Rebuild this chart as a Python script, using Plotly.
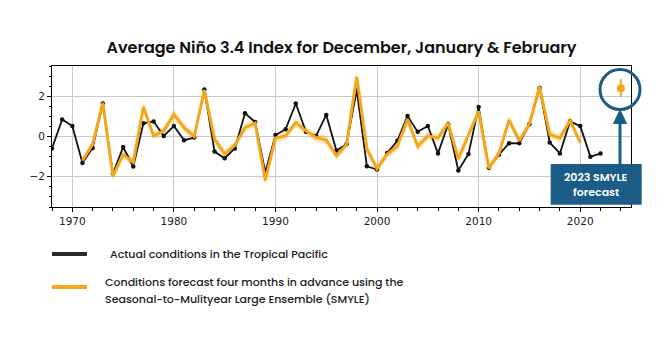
import plotly.graph_objects as go

# ---------------- data ----------------
obs_years = list(range(1968, 2023))
obs_values = [-0.59, 0.85, 0.52, -1.31, -0.57, 1.64, -1.85, -0.52, -1.49, 0.66,
              0.74, 0.03, 0.52, -0.18, -0.05, 2.33, -0.75, -1.08, -0.59, 1.15,
              0.72, -1.77, 0.07, 0.36, 1.64, 0.23, 0.03, 1.07, -0.70, -0.38,
              2.30, -1.48, -1.64, -0.82, -0.21, 1.02, 0.23, 0.52, -0.84, 0.61,
              -1.69, -0.87, 1.46, -1.55, -0.90, -0.33, -0.34, 0.61, 2.41, -0.30,
              -0.84, 0.74, 0.52, -1.00, -0.85]

fc_years = list(range(1971, 2021))
fc_values = [-1.20, -0.38, 1.67, -1.97, -0.90, -1.28, 1.48, 0.03, 0.28, 1.10,
             0.44, 0.00, 2.30, -0.13, -0.87, -0.43, 0.44, 0.66, -2.18, -0.08,
             0.03, 0.69, 0.28, -0.05, -0.18, -0.95, -0.40, 2.97, -0.62, -1.60,
             -0.87, -0.49, 0.85, -0.49, 0.03, -0.08, 0.66, -1.11, 0.07, 1.25,
             -1.58, -0.85, 0.82, -0.21, 0.62, 2.47, 0.11, -0.08, 0.80, -0.30]
fc_spread = [0.20, 0.22, 0.25, 0.25, 0.22, 0.20, 0.25, 0.20, 0.22, 0.25,
             0.22, 0.20, 0.28, 0.22, 0.22, 0.20, 0.22, 0.20, 0.28, 0.20,
             0.20, 0.22, 0.20, 0.22, 0.20, 0.22, 0.20, 0.32, 0.22, 0.22,
             0.20, 0.20, 0.22, 0.22, 0.20, 0.20, 0.22, 0.22, 0.20, 0.25,
             0.22, 0.20, 0.22, 0.20, 0.22, 0.30, 0.22, 0.22, 0.22, 0.22]

forecast_year = [2024]
forecast_value = [2.40]
forecast_err = [0.45]

title_text = "Average Niño 3.4 Index for December, January & February"
legend_actual = "Actual conditions in the Tropical Pacific"
legend_fc_1 = "Conditions forecast four months in advance using the"
legend_fc_2 = "Seasonal-to-Mulityear Large Ensemble (SMYLE)"
box_line_1 = "2023 SMYLE"
box_line_2 = "forecast"

ORANGE = "#F4A71D"
BLUE = "#1C5D87"
UI_FONT = "Poppins, Open Sans, sans-serif"

# ---------------- layout geometry (pixels) ----------------
W, H = 668, 350
L, R, T, B = 52, 37, 66, 143
PW, PH = W - L - R, H - T - B


def px(x):
    return (x - L) / PW


def py(y):
    return (H - B - y) / PH


fig = go.Figure()

upper = [v + s for v, s in zip(fc_values, fc_spread)]
lower = [v - s for v, s in zip(fc_values, fc_spread)]
fig.add_trace(go.Scatter(x=fc_years, y=upper, mode="lines", line=dict(width=0),
                         hoverinfo="skip", showlegend=False))
fig.add_trace(go.Scatter(x=fc_years, y=lower, mode="lines", line=dict(width=0),
                         fill="tonexty", fillcolor="rgba(244,167,29,0.28)",
                         hoverinfo="skip", showlegend=False))
fig.add_trace(go.Scatter(x=obs_years, y=obs_values, mode="lines+markers",
                         line=dict(color="#111111", width=1.8),
                         marker=dict(color="#111111", size=4.5),
                         showlegend=False))
fig.add_trace(go.Scatter(x=fc_years, y=fc_values, mode="lines",
                         line=dict(color=ORANGE, width=3), showlegend=False))
fig.add_trace(go.Scatter(x=forecast_year, y=forecast_value, mode="markers",
                         marker=dict(color=ORANGE, size=8),
                         error_y=dict(type="data", array=forecast_err, color=ORANGE,
                                      thickness=2, width=0),
                         showlegend=False))

axis_common = dict(showline=True, linecolor="black", linewidth=1, mirror=True,
                   ticks="outside", ticklen=4, tickcolor="black", tickwidth=1,
                   showgrid=True, gridcolor="#C8C8C8", gridwidth=1,
                   zeroline=False,
                   tickfont=dict(family="DejaVu Sans", size=10.5, color="#222222"))

fig.update_xaxes(range=[1968, 2025], tick0=1970, dtick=10,
                 minor=dict(dtick=2, tick0=1970, ticks="outside", ticklen=2.5,
                            tickcolor="black", showgrid=False),
                 **axis_common)
fig.update_yaxes(range=[-3.5, 3.5], tick0=0, dtick=2,
                 minor=dict(dtick=0.5, tick0=0, ticks="outside", ticklen=2.5,
                            tickcolor="black", showgrid=False),
                 **axis_common)

shapes = []
# highlight circle around forecast
shapes.append(dict(type="circle", xref="paper", yref="paper",
                   x0=px(600), x1=px(640), y0=py(109.5), y1=py(69.5),
                   line=dict(color=BLUE, width=3)))
# arrow shaft and head
shapes.append(dict(type="line", xref="paper", yref="paper",
                   x0=px(620), x1=px(620), y0=py(165), y1=py(120),
                   line=dict(color=BLUE, width=3)))
head = "M {a},{b} L {c},{d} L {e},{f} Z".format(
    a=px(613.5), b=py(123.5), c=px(626.5), d=py(123.5), e=px(620), f=py(110))
shapes.append(dict(type="path", xref="paper", yref="paper", path=head,
                   fillcolor=BLUE, line=dict(color=BLUE, width=1)))
# callout box
shapes.append(dict(type="rect", xref="paper", yref="paper",
                   x0=px(550.7), x1=px(641.7), y0=py(204.7), y1=py(164),
                   fillcolor=BLUE, line=dict(width=0)))
# legend samples
shapes.append(dict(type="line", xref="paper", yref="paper",
                   x0=px(52), x1=px(87), y0=py(254), y1=py(254),
                   line=dict(color="#2B2B2B", width=4)))
shapes.append(dict(type="line", xref="paper", yref="paper",
                   x0=px(52), x1=px(87), y0=py(287), y1=py(287),
                   line=dict(color=ORANGE, width=4)))

annotations = []
box_font = dict(family=UI_FONT, size=11, color="white", weight=600)
annotations.append(dict(xref="paper", yref="paper", x=px(596.2), y=py(176.5),
                        xanchor="center", yanchor="middle", text=box_line_1,
                        showarrow=False, font=box_font))
annotations.append(dict(xref="paper", yref="paper", x=px(596.2), y=py(192),
                        xanchor="center", yanchor="middle", text=box_line_2,
                        showarrow=False, font=box_font))
# legend labels
legend_font = dict(family=UI_FONT, size=11, color="#1A1A1A", weight=500)
annotations.append(dict(xref="paper", yref="paper", x=px(108), y=py(254.3),
                        xanchor="left", yanchor="middle", text=legend_actual,
                        showarrow=False, font=legend_font))
annotations.append(dict(xref="paper", yref="paper", x=px(102.7), y=py(282.3),
                        xanchor="left", yanchor="middle", text=legend_fc_1,
                        showarrow=False, font=legend_font))
annotations.append(dict(xref="paper", yref="paper", x=px(102.7), y=py(299),
                        xanchor="left", yanchor="middle", text=legend_fc_2,
                        showarrow=False, font=legend_font))

fig.update_layout(
    width=W, height=H,
    margin=dict(l=L, r=R, t=T, b=B),
    paper_bgcolor="white", plot_bgcolor="white",
    title=dict(text=title_text, x=341.5 / W, xanchor="center",
               y=1 - 47 / H, yanchor="middle",
               font=dict(family=UI_FONT, size=16, color="#111111", weight=600)),
    shapes=shapes, annotations=annotations, showlegend=False,
)

fig.write_html("out.html")
